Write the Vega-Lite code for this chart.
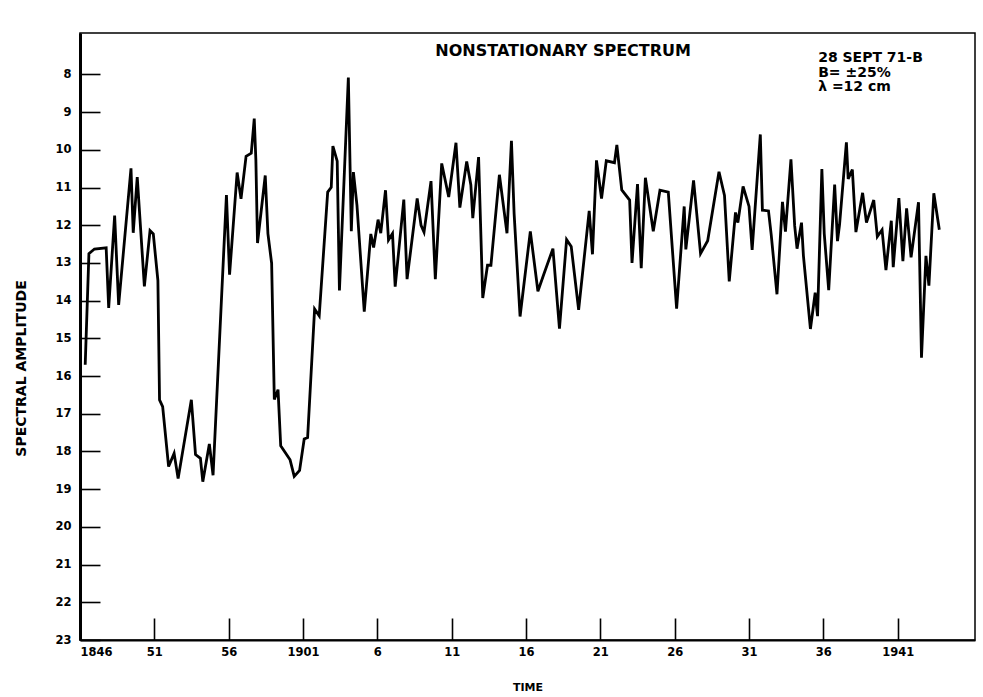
{
  "$schema": "https://vega.github.io/schema/vega-lite/v6.json",
  "width": 895,
  "height": 607,
  "autosize": "none",
  "padding": {"left": 80, "top": 33, "right": 8, "bottom": 57},
  "background": "white",
  "config": {
    "view": {"stroke": "black", "strokeWidth": 1.5},
    "font": "DejaVu Sans"
  },
  "datasets": {
    "spectrum": [
      {"time": 1886.35, "amplitude": 15.7},
      {"time": 1886.6, "amplitude": 12.75},
      {"time": 1886.97, "amplitude": 12.63},
      {"time": 1887.76, "amplitude": 12.6},
      {"time": 1887.93, "amplitude": 14.19},
      {"time": 1888.33, "amplitude": 11.74},
      {"time": 1888.6, "amplitude": 14.11},
      {"time": 1889.43, "amplitude": 10.49},
      {"time": 1889.58, "amplitude": 12.2},
      {"time": 1889.85, "amplitude": 10.72},
      {"time": 1890.33, "amplitude": 13.62},
      {"time": 1890.71, "amplitude": 12.14},
      {"time": 1890.93, "amplitude": 12.23},
      {"time": 1891.24, "amplitude": 13.47},
      {"time": 1891.35, "amplitude": 16.63},
      {"time": 1891.56, "amplitude": 16.81},
      {"time": 1891.96, "amplitude": 18.4},
      {"time": 1892.33, "amplitude": 18.05},
      {"time": 1892.6, "amplitude": 18.72},
      {"time": 1893.49, "amplitude": 16.63},
      {"time": 1893.77, "amplitude": 18.08},
      {"time": 1894.1, "amplitude": 18.18},
      {"time": 1894.26, "amplitude": 18.8},
      {"time": 1894.7, "amplitude": 17.8},
      {"time": 1894.95, "amplitude": 18.63},
      {"time": 1895.85, "amplitude": 11.2},
      {"time": 1896.06, "amplitude": 13.31},
      {"time": 1896.57, "amplitude": 10.6},
      {"time": 1896.83, "amplitude": 11.3},
      {"time": 1897.17, "amplitude": 10.17},
      {"time": 1897.52, "amplitude": 10.09},
      {"time": 1897.72, "amplitude": 9.17},
      {"time": 1897.83, "amplitude": 10.27},
      {"time": 1897.94, "amplitude": 12.47},
      {"time": 1898.46, "amplitude": 10.68},
      {"time": 1898.64, "amplitude": 12.22},
      {"time": 1898.89, "amplitude": 13.01},
      {"time": 1899.07, "amplitude": 16.62},
      {"time": 1899.32, "amplitude": 16.36},
      {"time": 1899.5, "amplitude": 17.85},
      {"time": 1900.13, "amplitude": 18.22},
      {"time": 1900.41, "amplitude": 18.66},
      {"time": 1900.77, "amplitude": 18.5},
      {"time": 1901.08, "amplitude": 17.67},
      {"time": 1901.31, "amplitude": 17.63},
      {"time": 1901.78, "amplitude": 14.22},
      {"time": 1902.09, "amplitude": 14.4},
      {"time": 1902.66, "amplitude": 11.12},
      {"time": 1902.9, "amplitude": 10.99},
      {"time": 1903.01, "amplitude": 9.9},
      {"time": 1903.3, "amplitude": 10.3},
      {"time": 1903.45, "amplitude": 13.73},
      {"time": 1904.05, "amplitude": 8.08},
      {"time": 1904.25, "amplitude": 12.16},
      {"time": 1904.39, "amplitude": 10.59},
      {"time": 1904.63, "amplitude": 11.47},
      {"time": 1905.12, "amplitude": 14.29},
      {"time": 1905.56, "amplitude": 12.23},
      {"time": 1905.75, "amplitude": 12.59},
      {"time": 1906.05, "amplitude": 11.85},
      {"time": 1906.23, "amplitude": 12.21},
      {"time": 1906.55, "amplitude": 11.07},
      {"time": 1906.75, "amplitude": 12.39},
      {"time": 1907.02, "amplitude": 12.22},
      {"time": 1907.2, "amplitude": 13.63},
      {"time": 1907.78, "amplitude": 11.32},
      {"time": 1908.0, "amplitude": 13.43},
      {"time": 1908.68, "amplitude": 11.29},
      {"time": 1908.94, "amplitude": 12.0},
      {"time": 1909.14, "amplitude": 12.18},
      {"time": 1909.61, "amplitude": 10.83},
      {"time": 1909.9, "amplitude": 13.43},
      {"time": 1910.33, "amplitude": 10.36},
      {"time": 1910.8, "amplitude": 11.25},
      {"time": 1911.29, "amplitude": 9.81},
      {"time": 1911.55, "amplitude": 11.53},
      {"time": 1912.01, "amplitude": 10.31},
      {"time": 1912.29, "amplitude": 10.93},
      {"time": 1912.42, "amplitude": 11.81},
      {"time": 1912.81, "amplitude": 10.19},
      {"time": 1913.09, "amplitude": 13.93},
      {"time": 1913.41, "amplitude": 13.06},
      {"time": 1913.64, "amplitude": 13.06},
      {"time": 1914.21, "amplitude": 10.66},
      {"time": 1914.72, "amplitude": 12.21},
      {"time": 1915.02, "amplitude": 9.76},
      {"time": 1915.2, "amplitude": 11.69},
      {"time": 1915.6, "amplitude": 14.42},
      {"time": 1916.29, "amplitude": 12.16},
      {"time": 1916.8, "amplitude": 13.75},
      {"time": 1917.18, "amplitude": 13.32},
      {"time": 1917.81, "amplitude": 12.62},
      {"time": 1918.25, "amplitude": 14.74},
      {"time": 1918.73, "amplitude": 12.38},
      {"time": 1919.04, "amplitude": 12.56},
      {"time": 1919.54, "amplitude": 14.24},
      {"time": 1920.25, "amplitude": 11.62},
      {"time": 1920.47, "amplitude": 12.77},
      {"time": 1920.74, "amplitude": 10.28},
      {"time": 1921.08, "amplitude": 11.29},
      {"time": 1921.4, "amplitude": 10.29},
      {"time": 1921.95, "amplitude": 10.34},
      {"time": 1922.11, "amplitude": 9.87},
      {"time": 1922.44, "amplitude": 11.06},
      {"time": 1922.97, "amplitude": 11.33},
      {"time": 1923.13, "amplitude": 13.0},
      {"time": 1923.5, "amplitude": 10.91},
      {"time": 1923.75, "amplitude": 13.14},
      {"time": 1924.03, "amplitude": 10.74},
      {"time": 1924.56, "amplitude": 12.16},
      {"time": 1925.01, "amplitude": 11.07},
      {"time": 1925.57, "amplitude": 11.12},
      {"time": 1926.13, "amplitude": 14.21},
      {"time": 1926.64, "amplitude": 11.5},
      {"time": 1926.75, "amplitude": 12.64},
      {"time": 1927.27, "amplitude": 10.81},
      {"time": 1927.74, "amplitude": 12.75},
      {"time": 1928.22, "amplitude": 12.41},
      {"time": 1928.98, "amplitude": 10.58},
      {"time": 1929.35, "amplitude": 11.21},
      {"time": 1929.67, "amplitude": 13.49},
      {"time": 1930.09, "amplitude": 11.66},
      {"time": 1930.25, "amplitude": 11.93},
      {"time": 1930.6, "amplitude": 10.97},
      {"time": 1931.0, "amplitude": 11.5},
      {"time": 1931.21, "amplitude": 12.65},
      {"time": 1931.76, "amplitude": 9.59},
      {"time": 1931.9, "amplitude": 11.6},
      {"time": 1932.31, "amplitude": 11.62},
      {"time": 1932.49, "amplitude": 12.24},
      {"time": 1932.88, "amplitude": 13.83},
      {"time": 1933.25, "amplitude": 11.38},
      {"time": 1933.45, "amplitude": 12.17},
      {"time": 1933.82, "amplitude": 10.25},
      {"time": 1934.07, "amplitude": 12.01},
      {"time": 1934.23, "amplitude": 12.62},
      {"time": 1934.53, "amplitude": 11.93},
      {"time": 1934.66, "amplitude": 12.81},
      {"time": 1935.13, "amplitude": 14.75},
      {"time": 1935.45, "amplitude": 13.79},
      {"time": 1935.61, "amplitude": 14.41},
      {"time": 1935.9, "amplitude": 10.51},
      {"time": 1936.06, "amplitude": 12.22},
      {"time": 1936.36, "amplitude": 13.72},
      {"time": 1936.76, "amplitude": 10.92},
      {"time": 1936.95, "amplitude": 12.42},
      {"time": 1937.09, "amplitude": 11.98},
      {"time": 1937.55, "amplitude": 9.8},
      {"time": 1937.67, "amplitude": 10.77},
      {"time": 1937.95, "amplitude": 10.52},
      {"time": 1938.19, "amplitude": 12.18},
      {"time": 1938.64, "amplitude": 11.14},
      {"time": 1938.9, "amplitude": 11.93},
      {"time": 1939.39, "amplitude": 11.33},
      {"time": 1939.63, "amplitude": 12.3},
      {"time": 1939.95, "amplitude": 12.12},
      {"time": 1940.21, "amplitude": 13.19},
      {"time": 1940.57, "amplitude": 11.88},
      {"time": 1940.7, "amplitude": 13.11},
      {"time": 1941.08, "amplitude": 11.28},
      {"time": 1941.35, "amplitude": 12.95},
      {"time": 1941.6, "amplitude": 11.55},
      {"time": 1941.9, "amplitude": 12.85},
      {"time": 1942.4, "amplitude": 11.39},
      {"time": 1942.6, "amplitude": 15.51},
      {"time": 1942.9, "amplitude": 12.81},
      {"time": 1943.1, "amplitude": 13.6},
      {"time": 1943.43, "amplitude": 11.15},
      {"time": 1943.8, "amplitude": 12.12}
    ],
    "heading": [
      {"time": 1918.5, "amplitude": 7.37, "label": "NONSTATIONARY SPECTRUM"}
    ],
    "notes": [
      {"time": 1935.65, "amplitude": 7.56, "label": "28 SEPT  71-B"},
      {"time": 1935.65, "amplitude": 7.95, "label": "B= ±25%"},
      {"time": 1935.65, "amplitude": 8.34, "label": "λ =12 cm"}
    ]
  },
  "layer": [
    {
      "data": {"name": "spectrum"},
      "mark": {"type": "line", "color": "black", "strokeWidth": 2.8},
      "encoding": {
        "x": {
          "field": "time",
          "type": "quantitative",
          "scale": {"domain": [1886, 1946.2], "nice": false, "zero": false},
          "axis": {
            "title": "TIME",
            "values": [1886, 1891, 1896, 1901, 1906, 1911, 1916, 1921, 1926, 1931, 1936, 1941],
            "labelExpr": "datum.value == 1886 ? '1846' : datum.value == 1891 ? '51' : datum.value == 1896 ? '56' : datum.value == 1901 ? '1901' : datum.value == 1941 ? '1941' : '' + (datum.value - 1900)",
            "grid": false,
            "domainColor": "black",
            "domainWidth": 2,
            "tickColor": "black",
            "tickWidth": 1.6,
            "tickSize": -22,
            "labelPadding": 28,
            "labelFlush": true,
            "labelColor": "black",
            "labelFont": "DejaVu Sans",
            "labelFontWeight": "bold",
            "labelFontSize": 11.5,
            "titleColor": "black",
            "titleFont": "DejaVu Sans",
            "titleFontWeight": "bold",
            "titleFontSize": 11,
            "titlePadding": 24
          }
        },
        "y": {
          "field": "amplitude",
          "type": "quantitative",
          "scale": {"domain": [6.9, 23], "reverse": true, "nice": false, "zero": false},
          "axis": {
            "title": "SPECTRAL AMPLITUDE",
            "values": [8, 9, 10, 11, 12, 13, 14, 15, 16, 17, 18, 19, 20, 21, 22, 23],
            "grid": false,
            "domainColor": "black",
            "domainWidth": 3,
            "tickColor": "black",
            "tickWidth": 1.6,
            "tickSize": -20,
            "labelPadding": 29,
            "labelColor": "black",
            "labelFont": "DejaVu Sans",
            "labelFontWeight": "bold",
            "labelFontSize": 11.5,
            "titleColor": "black",
            "titleFont": "DejaVu Sans",
            "titleFontWeight": "bold",
            "titleFontSize": 14,
            "titleX": -52,
            "titleY": 335
          }
        }
      }
    },
    {
      "data": {"name": "heading"},
      "mark": {"type": "text", "font": "DejaVu Sans", "fontWeight": "bold", "fontSize": 16, "align": "center", "baseline": "middle", "color": "black"},
      "encoding": {
        "x": {"field": "time", "type": "quantitative"},
        "y": {"field": "amplitude", "type": "quantitative"},
        "text": {"field": "label"}
      }
    },
    {
      "data": {"name": "notes"},
      "mark": {"type": "text", "font": "DejaVu Sans", "fontWeight": "bold", "fontSize": 14, "align": "left", "baseline": "middle", "color": "black"},
      "encoding": {
        "x": {"field": "time", "type": "quantitative"},
        "y": {"field": "amplitude", "type": "quantitative"},
        "text": {"field": "label"}
      }
    }
  ]
}
